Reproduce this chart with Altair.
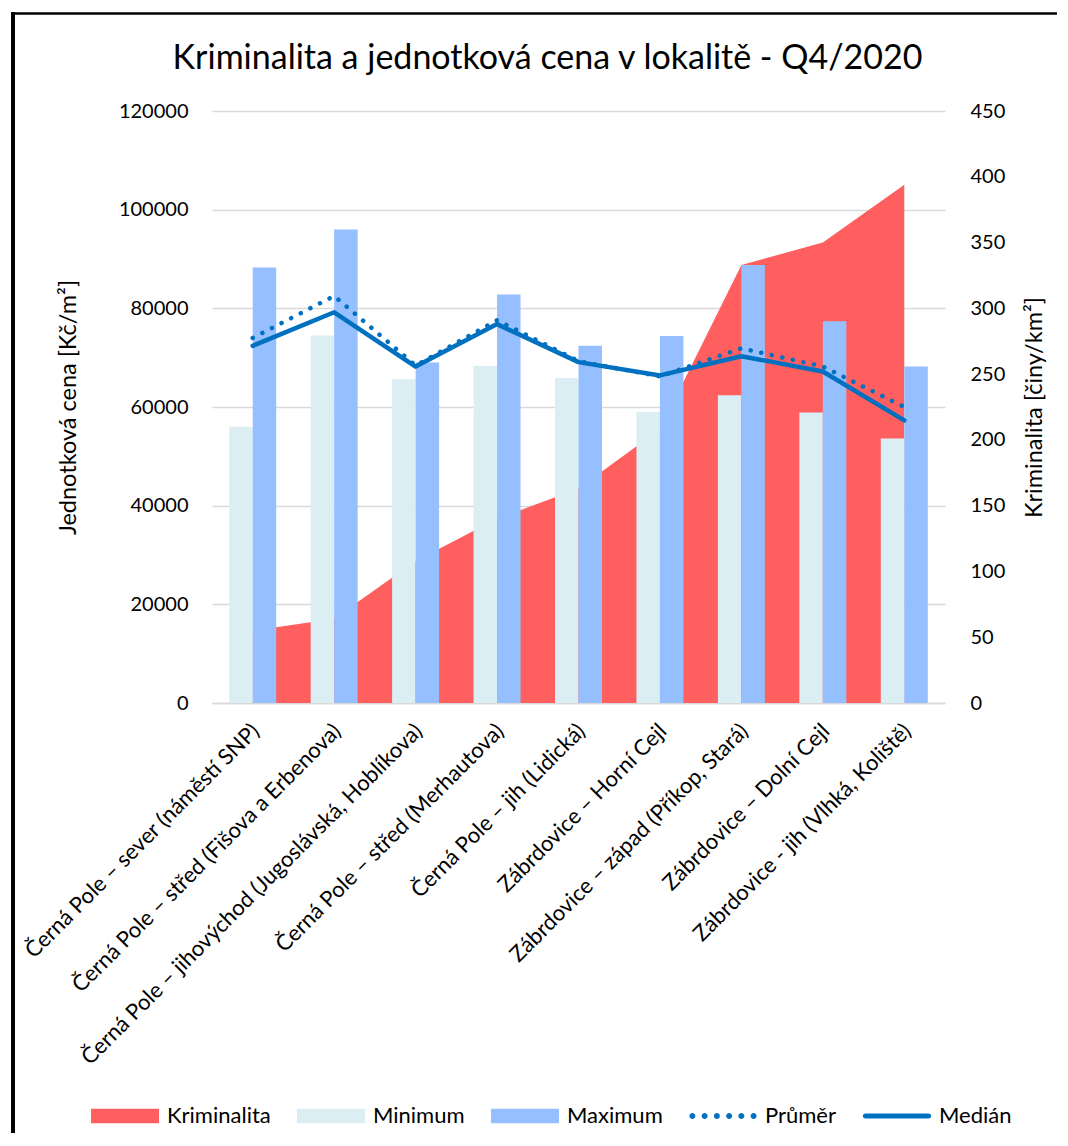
import altair as alt
import pandas as pd

categories = [
    "Černá Pole – sever (náměstí SNP)",
    "Černá Pole – střed (Fišova a Erbenova)",
    "Černá Pole – jihovýchod (Jugoslávská, Hoblíkova)",
    "Černá Pole – střed (Merhautova)",
    "Černá Pole – jih (Lidická)",
    "Zábrdovice – Horní Cejl",
    "Zábrdovice – západ (Příkop, Stará)",
    "Zábrdovice – Dolní Cejl",
    "Zábrdovice - jih (Vlhká, Koliště)",
]
kriminalita = [55, 64, 108, 140, 163, 208, 333, 350, 394]
minimum = [56000, 74500, 65600, 68300, 65900, 59000, 62400, 58900, 53600]
maximum = [88300, 96000, 69000, 82800, 72400, 74400, 88800, 77400, 68200]
prumer = [74000, 82500, 68400, 77600, 69300, 66200, 71900, 68200, 60000]
median = [72400, 79200, 68200, 76800, 69100, 66400, 70300, 67200, 57300]

series_names = ["Kriminalita", "Minimum", "Maximum", "Průměr", "Medián"]

C_RED = "#FF5F5F"
C_MIN = "#DAEEF3"
C_MAX = "#95BFFE"
C_LINE = "#0070C0"
FONT = "Lato"

wide = pd.DataFrame({
    "cat": categories,
    "Kriminalita": kriminalita,
    "Průměr": prumer,
    "Medián": median,
})
bars_df = pd.DataFrame({
    "cat": categories * 2,
    "series": ["Minimum"] * len(categories) + ["Maximum"] * len(categories),
    "value": minimum + maximum,
})
legend_df = pd.DataFrame({"series": series_names})

x_scale = alt.Scale(domain=categories, paddingInner=0.423, paddingOuter=0.2115)
x_axis = alt.Axis(
    title=None, labelAngle=-45, labelFontSize=22, labelColor="#000000",
    labelLimit=700, ticks=False, domainColor="#D9D9D9", domainWidth=1.3,
    labelPadding=17, labelOffset=-4, labelFont=FONT,
)
X = alt.X("cat:N", scale=x_scale, axis=x_axis, sort=categories)
Xc = alt.X("cat:N", scale=x_scale, axis=x_axis, sort=categories, bandPosition=0.5)

left_scale = alt.Scale(domain=[0, 120000])
left_axis = alt.Axis(
    orient="left", values=list(range(0, 120001, 20000)), format="d",
    title="Jednotková cena [Kč/m²]", grid=True, gridColor="#D9D9D9",
    gridWidth=1.3, domain=False, ticks=False, labelPadding=24,
    labelFontSize=20, labelColor="#000000", titleFontSize=23.5,
    titleFontWeight="normal", titleColor="#000000", titlePadding=38,
    labelFont=FONT, titleFont=FONT,
)
right_scale = alt.Scale(domain=[0, 450])
right_axis = alt.Axis(
    orient="right", values=list(range(0, 451, 50)), format="d",
    title="Kriminalita [činy/km²]", grid=False, domain=False, ticks=False,
    labelPadding=25, labelFontSize=20, labelColor="#000000",
    titleFontSize=23.5, titleFontWeight="normal", titleColor="#000000",
    titlePadding=18, titleAngle=270, titleBaseline="top",
    labelFont=FONT, titleFont=FONT,
)

area = alt.Chart(wide).mark_area(color=C_RED).encode(
    x=Xc,
    y=alt.Y("Kriminalita:Q", scale=right_scale, axis=right_axis),
)

bars = alt.Chart(bars_df).mark_bar().encode(
    x=X,
    xOffset=alt.XOffset("series:N", sort=["Minimum", "Maximum"],
                        scale=alt.Scale(domain=["Minimum", "Maximum"], paddingInner=0, paddingOuter=0)),
    y=alt.Y("value:Q", scale=left_scale, axis=left_axis),
    color=alt.condition(alt.datum.series == "Minimum", alt.value(C_MIN), alt.value(C_MAX)),
)

line_prumer = alt.Chart(wide).mark_line(
    color=C_LINE, strokeWidth=4.5, strokeDash=[0.1, 10.7], strokeCap="round", strokeJoin="round"
).encode(x=Xc, y=alt.Y("Průměr:Q", scale=left_scale, axis=left_axis))

line_median = alt.Chart(wide).mark_line(
    color=C_LINE, strokeWidth=4.5, strokeCap="round", strokeJoin="round"
).encode(x=Xc, y=alt.Y("Medián:Q", scale=left_scale, axis=left_axis))


def dots_path():
    parts = []
    r = 0.088
    for k in range(6):
        cx = -0.9 + k * 0.36
        parts.append(f"M{cx - r:.3f},0A{r},{r} 0 1,0 {cx + r:.3f},0A{r},{r} 0 1,0 {cx - r:.3f},0Z")
    return "".join(parts)


rect_path = "M-1,-0.21H1V0.21H-1Z"
line_path = "M-0.93,-0.075H0.93A0.075,0.075 0 0,1 0.93,0.075H-0.93A0.075,0.075 0 0,1 -0.93,-0.075Z"
legend_shapes = [rect_path, rect_path, rect_path, dots_path(), line_path]
legend_colors = [C_RED, C_MIN, C_MAX, C_LINE, C_LINE]

leg = alt.Legend(
    title=None, orient="none", legendX=-121, legendY=971, direction="horizontal",
    labelFontSize=22, labelColor="#000000", labelFont=FONT, columnPadding=26,
    labelOffset=8, symbolSize=4624, symbolStrokeWidth=0, symbolOpacity=1,
    columns=5,
)
# helper layer that only feeds the legend; its points sit outside the visible page
legend_layer = alt.Chart(legend_df).mark_point(filled=True, size=4624, strokeWidth=0).encode(
    x=alt.value(5000),
    y=alt.value(300),
    color=alt.Color("series:N", scale=alt.Scale(domain=series_names, range=legend_colors), legend=leg),
    shape=alt.Shape("series:N", scale=alt.Scale(domain=series_names, range=legend_shapes), legend=leg),
)

frame_df = pd.DataFrame({"k": [0]})
frame_left = alt.Chart(frame_df).mark_rule(color="#000000", strokeWidth=4).encode(
    x=alt.value(-199), y=alt.value(-99), y2=alt.value(1100)
)
frame_top = alt.Chart(frame_df).mark_rule(color="#000000", strokeWidth=2.5).encode(
    x=alt.value(-201), x2=alt.value(900), y=alt.value(-97.5)
)

left_layer = alt.layer(bars, line_prumer, line_median, legend_layer)

chart = alt.layer(frame_left, frame_top, area, left_layer).resolve_scale(
    y="independent"
).properties(
    width=733,
    height=592,
    autosize=alt.AutoSizeParams(type="none"),
    padding={"left": 204, "top": 103, "right": 112, "bottom": 430},
    title=alt.TitleParams(
        text="Kriminalita a jednotková cena v lokalitě - Q4/2020",
        fontSize=34, font=FONT, fontWeight="normal", color="#000000",
        anchor="middle", frame="group", dx=-31, offset=-66,
    ),
).configure(font=FONT).configure_view(stroke=None)

chart.save("out.html", embed_options={"renderer": "svg", "actions": False})
